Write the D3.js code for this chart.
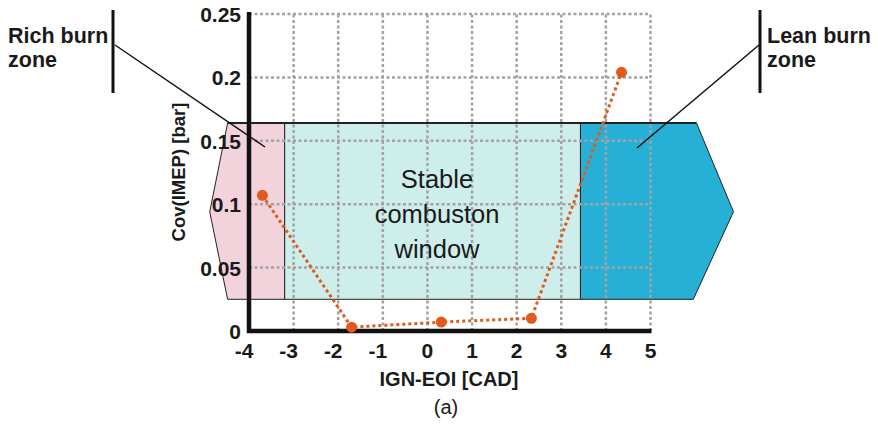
<!DOCTYPE html>
<html>
<head>
<meta charset="utf-8">
<script src="https://cdn.jsdelivr.net/npm/d3@7"></script>
<style>
  body { margin: 0; background: #fff; }
  svg text { font-family: "Liberation Sans", Arial, Helvetica, sans-serif; fill: #1a1a1a; }
</style>
</head>
<body>
<div id="chart"></div>
<script>
// data
const xTicks = [-4, -3, -2, -1, 0, 1, 2, 3, 4, 5];
const yTicks = [0, 0.05, 0.1, 0.15, 0.2, 0.25];
const yTickLabels = ["0", "0.05", "0.1", "0.15", "0.2", "0.25"];
const ignEoi = [-3.7, -1.7, 0.31, 2.33, 4.35];
const covImep = [0.107, 0.003, 0.007, 0.010, 0.204];

// zone outlines in data units [x, y]
const richZone = [[-4.48, 0.164], [-3.2, 0.164], [-3.2, 0.025], [-4.48, 0.025], [-4.88, 0.094]];
const stableZone = [[-3.2, 0.164], [3.43, 0.164], [3.43, 0.025], [-3.2, 0.025]];
const leanZone = [[3.43, 0.164], [6.03, 0.164], [6.86, 0.094], [5.96, 0.025], [3.43, 0.025]];
const stableText = ["Stable", "combuston", "window"];

const width = 878, height = 425;
const svg = d3.select("#chart").append("svg")
    .attr("width", width)
    .attr("height", height);

const x = d3.scaleLinear().domain([-4, 5]).range([249, 650.5]);
const y = d3.scaleLinear().domain([0, 0.25]).range([331, 14]);

const toPts = arr => arr.map(d => [x(d[0]), y(d[1])].join(",")).join(" ");

// zones
svg.append("polygon").attr("points", toPts(richZone))
    .attr("fill", "#f2d3dc").attr("stroke", "#222").attr("stroke-width", 1);
svg.append("polygon").attr("points", toPts(stableZone))
    .attr("fill", "#cdeeea").attr("stroke", "#222").attr("stroke-width", 1);
svg.append("polygon").attr("points", toPts(leanZone))
    .attr("fill", "#27b0d6").attr("stroke", "#222").attr("stroke-width", 1);
// thicker top edge
svg.append("line")
    .attr("x1", x(richZone[0][0])).attr("x2", x(leanZone[1][0]))
    .attr("y1", y(0.164)).attr("y2", y(0.164))
    .attr("stroke", "#222").attr("stroke-width", 2);

// grid
const grid = svg.append("g")
    .attr("stroke", "#a3a3a3").attr("stroke-width", 2.5)
    .attr("stroke-dasharray", "3,2.5");
grid.selectAll(".gx").data(xTicks.slice(1))
    .enter().append("line")
    .attr("x1", d => x(d)).attr("x2", d => x(d))
    .attr("y1", y(0)).attr("y2", y(0.25));
grid.selectAll(".gy").data(yTicks.slice(1))
    .enter().append("line")
    .attr("x1", x(-4)).attr("x2", x(5))
    .attr("y1", d => y(d)).attr("y2", d => y(d));

// stable window label
svg.append("g").selectAll("text").data(stableText)
    .enter().append("text")
    .attr("x", 437)
    .attr("y", (d, i) => 188 + i * 35)
    .attr("text-anchor", "middle")
    .style("font-size", "25.5px")
    .text(d => d);

// axes
svg.append("line")
    .attr("x1", x(-4)).attr("x2", x(-4))
    .attr("y1", 12).attr("y2", y(0) + 2)
    .attr("stroke", "#111").attr("stroke-width", 4.5);
svg.append("line")
    .attr("x1", x(-4) - 2).attr("x2", x(5) + 1)
    .attr("y1", y(0)).attr("y2", y(0))
    .attr("stroke", "#111").attr("stroke-width", 4.5);

svg.append("g").selectAll("text").data(xTicks)
    .enter().append("text")
    .attr("x", d => x(d) - (d < 0 ? 5 : 0))
    .attr("y", 358)
    .attr("text-anchor", "middle")
    .style("font-size", "21px").style("font-weight", "bold")
    .text(d => d);

svg.append("g").selectAll("text").data(yTicks)
    .enter().append("text")
    .attr("x", 241)
    .attr("y", d => y(d) + 8)
    .attr("text-anchor", "end")
    .style("font-size", "21px").style("font-weight", "bold")
    .text((d, i) => yTickLabels[i]);

svg.append("text")
    .attr("x", 449).attr("y", 386)
    .attr("text-anchor", "middle")
    .style("font-size", "20px").style("font-weight", "bold")
    .text("IGN-EOI [CAD]");

svg.append("text")
    .attr("x", 446).attr("y", 414)
    .attr("text-anchor", "middle")
    .style("font-size", "20px")
    .text("(a)");

svg.append("text")
    .attr("transform", "translate(185,172) rotate(-90)")
    .attr("text-anchor", "middle")
    .style("font-size", "18.5px").style("font-weight", "bold")
    .text("Cov(IMEP) [bar]");

// series
const pts = ignEoi.map((d, i) => [d, covImep[i]]);
svg.append("path")
    .datum(pts)
    .attr("fill", "none")
    .attr("stroke", "#e05a1e").attr("stroke-width", 3)
    .attr("stroke-dasharray", "3,3")
    .attr("d", d3.line().x(d => x(d[0])).y(d => y(d[1])));
svg.selectAll(".pt").data(pts)
    .enter().append("circle")
    .attr("cx", d => x(d[0])).attr("cy", d => y(d[1]))
    .attr("r", 5.5)
    .attr("fill", "#e05a1e");

// annotations
const notes = [
    { lines: ["Rich burn", "zone"], tx: 8, bar: 113, from: [115, 45], to: [265, 147] },
    { lines: ["Lean burn", "zone"], tx: 767, bar: 760, from: [759, 45], to: [637, 148] }
];
notes.forEach(n => {
    svg.append("line")
        .attr("x1", n.bar).attr("x2", n.bar).attr("y1", 10).attr("y2", 93)
        .attr("stroke", "#111").attr("stroke-width", 3);
    svg.append("line")
        .attr("x1", n.from[0]).attr("y1", n.from[1])
        .attr("x2", n.to[0]).attr("y2", n.to[1])
        .attr("stroke", "#111").attr("stroke-width", 1.5);
    n.lines.forEach((t, i) => {
        svg.append("text")
            .attr("x", n.tx).attr("y", 43 + i * 24)
            .style("font-size", "21.5px").style("font-weight", "bold")
            .text(t);
    });
});
</script>
</body>
</html>
